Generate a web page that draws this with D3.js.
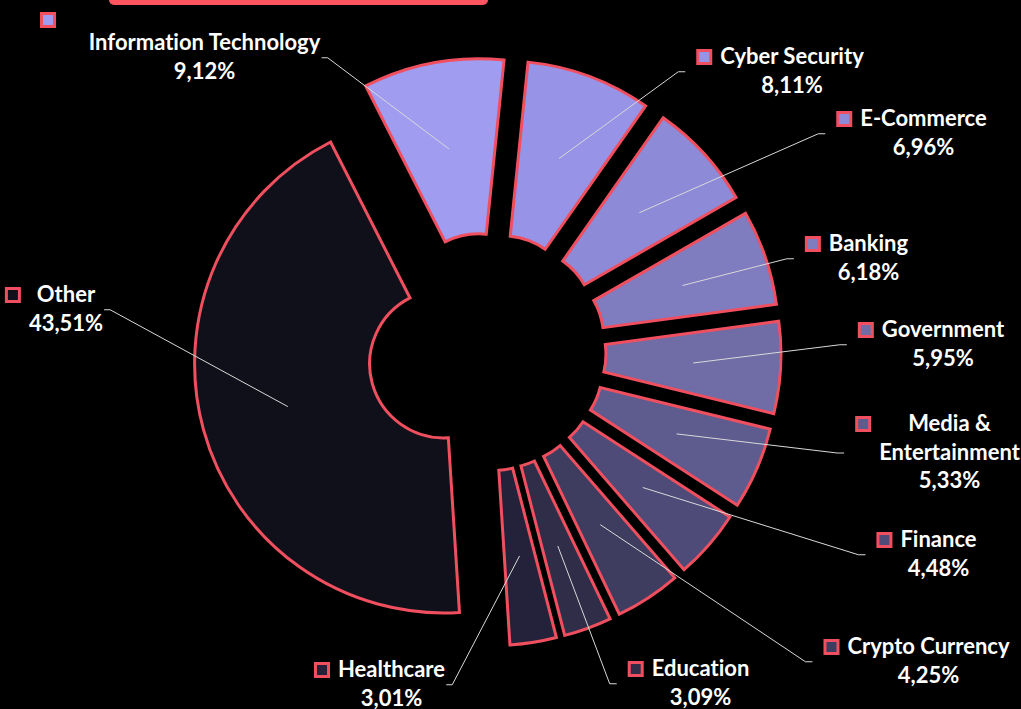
<!DOCTYPE html>
<html>
<head>
<meta charset="utf-8">
<script src="https://cdn.jsdelivr.net/npm/d3@7"></script>
<style>
  html, body { margin: 0; padding: 0; background: #000; }
  svg { display: block; }
  .lbl { font-family: Lato, "Open Sans", sans-serif; font-weight: 700; fill: #fff; font-variant-ligatures: none; }
</style>
</head>
<body>
<svg id="chart" width="1021" height="709"></svg>
<script>
// categories, clockwise from the first slice
const categories = ['Information Technology', 'Cyber Security', 'E-Commerce', 'Banking', 'Government',
  'Media & Entertainment', 'Finance', 'Crypto Currency', 'Education', 'Healthcare', 'Other'];
const shares = [9.12, 8.11, 6.96, 6.18, 5.95, 5.33, 4.48, 4.25, 3.09, 3.01, 43.51];
const percentLabels = ['9,12%', '8,11%', '6,96%', '6,18%', '5,95%', '5,33%', '4,48%', '4,25%', '3,09%', '3,01%', '43,51%'];
const sliceColors = ['#a09cf0', '#9793e6', '#8d8ad8', '#7f7cc0', '#6f6ca6', '#5e5b8f',
  '#4e4b78', '#3e3c5f', '#2f2d48', '#23223a', '#10101a'];

// where the (hand placed) data labels sit: text centre x, first baseline y
const labelSpots = [[204.5, 50], [792, 64], [923.5, 126], [868.5, 251], [943, 337], [949.5, 431],
  [938.5, 547], [928.5, 654], [700.5, 676], [391.5, 677], [66, 302]];

const svg = d3.select('#chart');
const width = +svg.attr('width');
const height = +svg.attr('height');

const cx = 487, cy = 352;
const rIn = 74, rOut = 249;
const explode = 45;
const lineH = 28.5;
const red = '#f04f5f';

svg.append('rect').attr('width', width).attr('height', height).attr('fill', '#000');

// title box, cut off by the top edge
svg.append('rect')
  .attr('x', 109).attr('y', -12)
  .attr('width', 379).attr('height', 17)
  .attr('rx', 5)
  .attr('fill', '#fd5462');

const data = categories.map((c, i) => ({ name: c, value: shares[i], pct: percentLabels[i], color: sliceColors[i], spot: labelSpots[i] }));

const start = -27 * Math.PI / 180;
const pie = d3.pie().sort(null).value(d => d.value)
  .startAngle(start).endAngle(start + 2 * Math.PI);
const arc = d3.arc().innerRadius(rIn).outerRadius(rOut);
const arcs = pie(data);

// each slice pushed out along its bisector
arcs.forEach(a => {
  const mid = (a.startAngle + a.endAngle) / 2;
  a.ox = cx + explode * Math.sin(mid);
  a.oy = cy - explode * Math.cos(mid);
  const c = arc.centroid(a);
  a.px = a.ox + c[0];
  a.py = a.oy + c[1];
});

svg.append('g')
  .selectAll('path')
  .data(arcs)
  .join('path')
    .attr('transform', d => 'translate(' + d.ox + ',' + d.oy + ')')
    .attr('d', arc)
    .attr('fill', d => d.data.color)
    .attr('stroke', red)
    .attr('stroke-width', 3)
    .attr('stroke-linejoin', 'miter');

// labels
const labels = svg.append('g');
const leaders = svg.append('g');

arcs.forEach(a => {
  const d = a.data;
  const lines = d.name.replace(' & ', ' &\n').split('\n').concat([d.pct]);
  const g = labels.append('g');
  const txt = g.append('text')
    .attr('class', 'lbl')
    .attr('font-size', 22)
    .attr('text-anchor', 'middle');
  lines.forEach((l, k) => {
    txt.append('tspan').attr('x', d.spot[0]).attr('y', d.spot[1] + k * lineH).text(l);
  });
  const box = txt.node().getBBox();
  const top = d.spot[1] - 15;
  const bottom = d.spot[1] + (lines.length - 1) * lineH + 2;

  // legend key
  let kx = box.x - 8 - 16, ky = d.spot[1] - 15;
  if (d.name === 'Information Technology') { kx = 40; ky = 12; }
  g.append('rect')
    .attr('x', kx + 1.5).attr('y', ky + 1.5)
    .attr('width', 13).attr('height', 13)
    .attr('fill', d.color)
    .attr('stroke', red)
    .attr('stroke-width', 3);

  // leader line from the slice to the label block
  const midY = (top + bottom) / 2;
  const onRight = d.spot[0] < a.px;
  const ex = onRight ? box.x + box.width + 1 : Math.min(box.x, kx) - 11;
  const tail = onRight ? 6 : -7;
  leaders.append('path')
    .attr('d', d3.line()([[ex, midY], [ex + tail, midY], [a.px, a.py]]))
    .attr('fill', 'none')
    .attr('stroke', '#d9d9d9')
    .attr('stroke-width', 1);
});
</script>
</body>
</html>
